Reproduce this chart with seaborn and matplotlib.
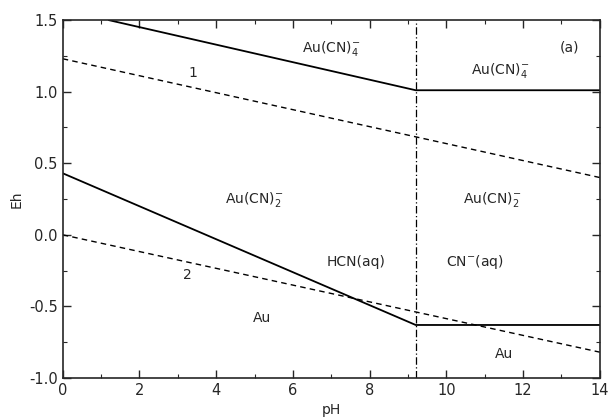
import matplotlib
matplotlib.use("Agg")
import matplotlib.pyplot as plt
from matplotlib.ticker import MultipleLocator
import seaborn as sns
import pandas as pd

# boundaries (Au-CN-H2O)
ph_upper = [1.2, 9.2, 14.0]
eh_upper = [1.50, 1.01, 1.01]
ph_lower = [0.0, 9.2, 14.0]
eh_lower = [0.43, -0.63, -0.63]
ph_water = [0.0, 14.0]
eh_line1 = [1.23, 0.40]
eh_line2 = [0.00, -0.82]
pka_hcn = 9.2

labels = ["Au(CN)$_4^{-}$", "Au(CN)$_4^{-}$", "Au(CN)$_2^{-}$", "Au(CN)$_2^{-}$",
          "HCN(aq)", "CN$^{-}$(aq)", "Au", "Au", "1", "2", "(a)"]
label_ph = [7.0, 11.4, 5.0, 11.2, 7.65, 10.75, 5.2, 11.5, 3.4, 3.25, 13.2]
label_eh = [1.30, 1.15, 0.25, 0.25, -0.19, -0.19, -0.58, -0.83, 1.13, -0.28, 1.31]

sns.set_style("ticks")
plt.rcParams["font.family"] = ["DejaVu Sans"]
plt.rcParams["axes.unicode_minus"] = False

fig = plt.figure(figsize=(6.09, 4.19), dpi=100)
ax = fig.add_axes([0.103, 0.098, 0.882, 0.854])

solid = pd.concat([
    pd.DataFrame({"pH": ph_upper, "Eh": eh_upper, "line": "upper"}),
    pd.DataFrame({"pH": ph_lower, "Eh": eh_lower, "line": "lower"}),
])
dashed = pd.concat([
    pd.DataFrame({"pH": ph_water, "Eh": eh_line1, "line": "1"}),
    pd.DataFrame({"pH": ph_water, "Eh": eh_line2, "line": "2"}),
])

sns.lineplot(data=solid, x="pH", y="Eh", units="line", estimator=None,
             color="black", lw=1.3, sort=False, ax=ax)
sns.lineplot(data=dashed, x="pH", y="Eh", units="line", estimator=None,
             color="black", lw=1.0, ls=(0, (4, 3)), sort=False, ax=ax)
ax.axvline(pka_hcn, color="black", lw=0.9, ls=(0, (6, 2, 1, 2)))

for txt, x, y in zip(labels, label_ph, label_eh):
    ax.text(x, y, txt, ha="center", va="center", fontsize=10)

ax.set_xlim(0, 14)
ax.set_ylim(-1.0, 1.5)
ax.xaxis.set_major_locator(MultipleLocator(2))
ax.xaxis.set_minor_locator(MultipleLocator(1))
ax.yaxis.set_major_locator(MultipleLocator(0.5))
ax.yaxis.set_minor_locator(MultipleLocator(0.25))
ax.yaxis.set_major_formatter(plt.FuncFormatter(lambda v, p: f"{v:.1f}"))
ax.tick_params(which="both", direction="in", top=True, right=True, labelsize=10.5)
ax.tick_params(which="major", length=6, width=1.0)
ax.tick_params(which="minor", length=3, width=0.8)
for s in ax.spines.values():
    s.set_linewidth(1.2)
ax.set_xlabel("pH", fontsize=10)
ax.set_ylabel("Eh", fontsize=10)

fig.savefig("out.png", dpi=100)
